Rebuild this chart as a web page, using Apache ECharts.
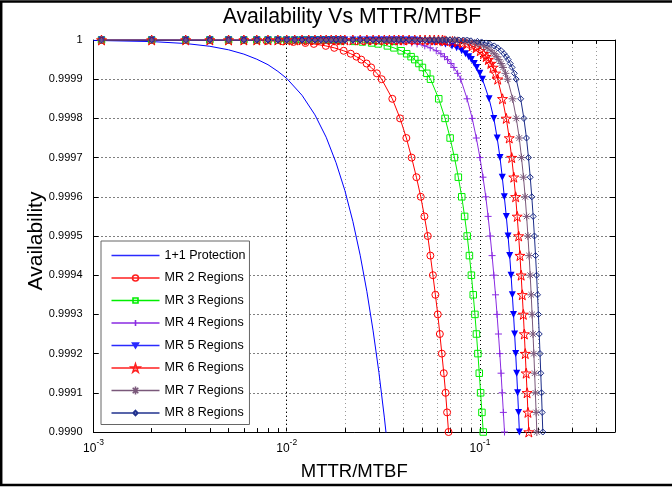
<!DOCTYPE html>
<html>
<head>
<meta charset="utf-8">
<script src="https://cdn.jsdelivr.net/npm/echarts@6/dist/echarts.min.js"></script>
<style>
  html, body { margin: 0; padding: 0; background: #fff; }
  #availChart { width: 672px; height: 488px; }
</style>
</head>
<body>
<div id="availChart"></div>
<script>
// availability levels where the MR curves were read (1 - A in steps of the grid)
const levelA = [0.999998, 0.9999965, 0.999995, 0.9999925, 0.99999, 0.999985, 0.99998, 0.9999725,
  0.999965, 0.9999575, 0.99995, 0.99994, 0.99993, 0.999915, 0.9999, 0.99985, 0.9998, 0.99975,
  0.9997, 0.99965, 0.9996, 0.99955, 0.9995, 0.99945, 0.9994, 0.99935, 0.9993, 0.99925, 0.9992,
  0.99915, 0.9991, 0.99905, 0.999, 0.9989];

// MTTR/MTBF read for each curve at the levels above
const mr2X = [0.00785, 0.00956, 0.01083, 0.01249, 0.01381, 0.01593, 0.01762, 0.01971, 0.02144, 0.02295,
  0.02431, 0.02591, 0.02735, 0.02928, 0.031, 0.0352, 0.0386, 0.0416, 0.0443, 0.0469, 0.0494, 0.0516,
  0.0537, 0.0554, 0.0571, 0.0588, 0.0605, 0.062, 0.0635, 0.065, 0.0664, 0.0676, 0.0688, 0.0711];
const mr3X = [0.01923, 0.02238, 0.02464, 0.02751, 0.02973, 0.03319, 0.03589, 0.03912, 0.04176, 0.04401,
  0.046, 0.04832, 0.05038, 0.05311, 0.0555, 0.0612, 0.066, 0.0701, 0.0738, 0.0773, 0.0805, 0.0833,
  0.0859, 0.0882, 0.0903, 0.0923, 0.0942, 0.0959, 0.0976, 0.0992, 0.1008, 0.1024, 0.104, 0.1067];
const mr4X = [0.0329, 0.03732, 0.04044, 0.04432, 0.04729, 0.05182, 0.0553, 0.05942, 0.06273, 0.06554,
  0.068, 0.07084, 0.07335, 0.07664, 0.0795, 0.0858, 0.0912, 0.0958, 0.1, 0.1037, 0.1072, 0.1102,
  0.113, 0.1156, 0.118, 0.1204, 0.1226, 0.1247, 0.1267, 0.1286, 0.1304, 0.1322, 0.134, 0.1369];
const mr5X = [0.04875, 0.05426, 0.05808, 0.06277, 0.06631, 0.07167, 0.07573, 0.08047, 0.08426, 0.08745,
  0.09022, 0.09341, 0.0962, 0.09985, 0.103, 0.1115, 0.118, 0.1228, 0.127, 0.1305, 0.1337, 0.1369,
  0.1398, 0.1425, 0.1449, 0.1471, 0.1492, 0.1512, 0.1531, 0.1549, 0.1567, 0.1584, 0.16, 0.1629];
const mr6X = [0.06589, 0.0721, 0.07635, 0.0815, 0.08535, 0.09111, 0.09543, 0.10043, 0.1044, 0.1077,
  0.11057, 0.11385, 0.1167, 0.12041, 0.1236, 0.1308, 0.1368, 0.1418, 0.146, 0.1497, 0.153, 0.1559,
  0.1586, 0.1611, 0.1634, 0.1656, 0.1677, 0.1697, 0.1716, 0.1735, 0.1754, 0.1772, 0.179, 0.1818];
const mr7X = [0.07684, 0.08365, 0.08829, 0.09388, 0.09805, 0.10428, 0.10893, 0.1143, 0.11855, 0.1221,
  0.12514, 0.12864, 0.13167, 0.13562, 0.139, 0.1476, 0.1542, 0.1598, 0.1641, 0.168, 0.1714, 0.1744,
  0.1772, 0.1797, 0.182, 0.1842, 0.1862, 0.1882, 0.1901, 0.1919, 0.1936, 0.1953, 0.197, 0.1999];
const mr8X = [0.08986, 0.09707, 0.10195, 0.1078, 0.11216, 0.1186, 0.1234, 0.12891, 0.13327, 0.13688,
  0.13999, 0.14353, 0.14661, 0.1506, 0.154, 0.1625, 0.1688, 0.1741, 0.1783, 0.1821, 0.1855, 0.1886,
  0.1914, 0.194, 0.1964, 0.1986, 0.2007, 0.2027, 0.2046, 0.2064, 0.2082, 0.2099, 0.2115, 0.2143];

// samples along the top where every MR curve still reads 1
const flatX = [0.0011, 0.002, 0.003, 0.004, 0.005, 0.006, 0.007, 0.008, 0.009, 0.010, 0.011, 0.012,
  0.013, 0.014, 0.015, 0.016, 0.017, 0.018, 0.019, 0.020, 0.022, 0.024, 0.026, 0.028, 0.030, 0.032,
  0.034, 0.036, 0.038, 0.040, 0.043, 0.046, 0.049, 0.052, 0.055, 0.058, 0.061, 0.064, 0.067, 0.070,
  0.074, 0.078, 0.082, 0.086];

// 1+1 protection curve
const protX = [0.001, 0.002, 0.003, 0.004, 0.005, 0.006, 0.007, 0.008, 0.009, 0.010, 0.012, 0.014,
  0.016, 0.018, 0.020, 0.022, 0.024, 0.026, 0.028, 0.030, 0.032, 0.034];
const protA = [0.999999, 0.999996, 0.999991, 0.999984, 0.999975, 0.999964, 0.999951, 0.999937,
  0.99992, 0.999902, 0.999859, 0.999809, 0.999752, 0.999687, 0.999616, 0.999537, 0.999451,
  0.999358, 0.999258, 0.999152, 0.999038, 0.998919];

const seriesNames = ['1+1 Protection', 'MR 2 Regions', 'MR 3 Regions', 'MR 4 Regions',
  'MR 5 Regions', 'MR 6 Regions', 'MR 7 Regions', 'MR 8 Regions'];
const seriesColors = ['#0000ff', '#ff0000', '#00ee00', '#8a2be2', '#0000ff', '#ff0000', '#7a587a', '#1c2c88'];
const minorX = [0.002, 0.003, 0.004, 0.005, 0.006, 0.007, 0.008, 0.009,
  0.02, 0.03, 0.04, 0.05, 0.06, 0.07, 0.08, 0.09, 0.2, 0.3, 0.4];

const FONT = 'Liberation Sans';
const marker = {
  circle: 'path://M5,0A5,5,0,1,1,5,10A5,5,0,1,1,5,0Z',
  square: 'path://M0,0H10V10H0Z',
  plus: 'path://M0,5H10M5,0V10',
  pentagram: 'path://M10,0L12.25,6.91L19.51,6.91L13.63,11.18L15.88,18.09L10,13.82L4.12,18.09L6.37,11.18L0.49,6.91L7.75,6.91Z',
  asterisk: 'path://M0,5H10M5,0V10M1.5,1.5L8.5,8.5M1.5,8.5L8.5,1.5',
  diamond: 'path://M5,0L10,5L5,10L0,5Z'
};

// legend icons: a 48x10 box with the line and the marker in the middle
const legendIcons = [
  'path://M0,0M0,5H48M48,10',
  'path://M0,0M0,5H48M48,10M27,5A3,3,0,1,1,21,5A3,3,0,1,1,27,5Z',
  'path://M0,0M0,5H48M48,10M21.5,2.5H26.5V7.5H21.5Z',
  'path://M0,0M0,5H48M48,10M24,2V8',
  'path://M0,0M0,5H48M48,10M21,2.5H27L24,7.5Z',
  'path://M0,0M0,5H48M48,10M24,0.9L25.01,4.01L28.28,4.01L25.63,5.93L26.65,9.04L24,7.12L21.35,9.04L22.37,5.93L19.72,4.01L22.99,4.01Z',
  'path://M0,0M0,5H48M48,10M24,1V9M21.2,2.2L26.8,7.8M21.2,7.8L26.8,2.2',
  'path://M0,0M0,5H48M48,10M24,2.5L26.5,5L24,7.5L21.5,5Z'
];
const legendFilled = [false, false, false, false, true, false, false, false];
const legendColors = ['#2a2aff', '#ff2020', '#00ee00', '#8a2be2', '#2a2aff', '#ff2020', '#7a587a', '#22338f'];

function mrSeries(name, xs, color, symbol, size, filled, rotate) {
  const flat = flatX.filter(x => x < xs[0]).map(x => [x, 1]);
  const knee = xs.map((x, i) => [x, levelA[i]]);
  return {
    name: name,
    type: 'line',
    data: flat.concat(knee),
    symbol: symbol,
    symbolSize: size,
    symbolRotate: rotate || 0,
    lineStyle: { color: color, width: 1 },
    itemStyle: filled ? { color: color } : { color: 'none', borderColor: color, borderWidth: 1 },
    emphasis: { disabled: true },
    animation: false
  };
}

// minor grid lines and minor ticks of the log axis
const minorLines = [];
minorX.forEach(x => {
  minorLines.push({ xAxis: x });
  minorLines.push([{ coord: [x, 0.999], lineStyle: { type: 'solid', color: '#000' } }, { coord: [x, 0.99901] }]);
  minorLines.push([{ coord: [x, 1], lineStyle: { type: 'solid', color: '#000' } }, { coord: [x, 0.99999] }]);
});

const protSeries = {
  name: seriesNames[0],
  type: 'line',
  data: protX.map((x, i) => [x, protA[i]]),
  symbol: 'none',
  lineStyle: { color: '#0000ff', width: 1 },
  itemStyle: { color: '#0000ff' },
  emphasis: { disabled: true },
  animation: false,
  markLine: {
    silent: true,
    symbol: ['none', 'none'],
    label: { show: false },
    animation: false,
    z: 1,
    lineStyle: { color: '#999', type: [1, 3], width: 1 },
    data: minorLines
  }
};

const logLabel = v => {
  const p = Math.log10(v);
  const r = Math.round(p);
  return Math.abs(p - r) < 1e-6 ? '{b|10}{s|' + r + '}' : '';
};
const yLabel = v => (Math.abs(v - 1) < 1e-9 ? '1' : v.toFixed(4));

const chart = echarts.init(document.getElementById('availChart'));
chart.setOption({
  backgroundColor: '#fff',
  animation: false,
  title: {
    text: 'Availability Vs MTTR/MTBF',
    left: 347,
    textAlign: 'center',
    top: 2,
    textStyle: { fontFamily: FONT, fontSize: 21.2, fontWeight: 'normal', color: '#000' }
  },
  graphic: [{
    type: 'rect',
    shape: { x: 1.2, y: 1.5, width: 700, height: 483.5 },
    style: { fill: 'none', stroke: '#000', lineWidth: 2.5 },
    silent: true
  }, {
    // y axis title, rotated like the original
    type: 'text',
    x: 36,
    y: 241,
    rotation: Math.PI / 2,
    silent: true,
    style: {
      text: 'Availability',
      fontFamily: FONT,
      fontSize: 21,
      fill: '#000',
      align: 'center',
      verticalAlign: 'middle'
    }
  }],
  grid: { left: 93.5, right: 57, top: 40, bottom: 56, outerBoundsMode: 'none' },
  legend: {
    orient: 'vertical',
    left: 101,
    top: 241,
    padding: [7, 4, 4, 8],
    itemWidth: 48,
    itemHeight: 10,
    itemGap: 7.5,
    backgroundColor: '#fff',
    borderColor: '#666',
    borderWidth: 1,
    borderRadius: 0,
    textStyle: { fontFamily: FONT, fontSize: 12.5, color: '#000', lineHeight: 15 },
    data: seriesNames.map((name, i) => ({
      name: name,
      icon: legendIcons[i],
      itemStyle: {
        color: legendFilled[i] ? legendColors[i] : 'none',
        borderColor: legendColors[i],
        borderWidth: 1.6
      }
    }))
  },
  xAxis: [{
    type: 'log',
    logBase: 10,
    min: 0.001,
    max: 0.5,
    name: 'MTTR/MTBF',
    nameLocation: 'middle',
    nameGap: 30,
    nameMoveOverlap: false,
    nameTextStyle: { fontFamily: FONT, fontSize: 18.5, color: '#000' },
    axisLine: { lineStyle: { color: '#000', width: 1 } },
    axisTick: { inside: true, length: 5, lineStyle: { color: '#000' } },
    axisLabel: {
      formatter: logLabel,
      margin: 4,
      rich: {
        b: { fontFamily: FONT, fontSize: 12, color: '#000', padding: [7, 0, 0, 0] },
        s: { fontFamily: FONT, fontSize: 8.5, color: '#000', padding: [0, 0, 5, 0] }
      }
    },
    splitLine: { show: true, lineStyle: { color: '#000', type: [1, 3], width: 1 } }
  }, {
    type: 'log',
    logBase: 10,
    min: 0.001,
    max: 0.5,
    position: 'top',
    axisLine: { lineStyle: { color: '#000', width: 1 } },
    axisTick: { inside: true, length: 5, lineStyle: { color: '#000' } },
    axisLabel: { show: false },
    splitLine: { show: false }
  }],
  yAxis: [{
    type: 'value',
    min: 0.999,
    max: 1,
    interval: 0.0001,
    axisLine: { show: true, lineStyle: { color: '#000', width: 1 } },
    axisTick: { show: true, inside: true, length: 5, lineStyle: { color: '#000' } },
    axisLabel: { formatter: yLabel, fontFamily: FONT, fontSize: 11, color: '#000', margin: 11 },
    splitLine: { show: true, lineStyle: { color: '#000', type: [1, 3], width: 1 } }
  }, {
    type: 'value',
    min: 0.999,
    max: 1,
    interval: 0.0001,
    position: 'right',
    axisLine: { show: true, lineStyle: { color: '#000', width: 1 } },
    axisTick: { show: true, inside: true, length: 5, lineStyle: { color: '#000' } },
    axisLabel: { show: false },
    splitLine: { show: false }
  }],
  series: [
    protSeries,
    mrSeries(seriesNames[1], mr2X, seriesColors[1], marker.circle, 7, false),
    mrSeries(seriesNames[2], mr3X, seriesColors[2], marker.square, 6.5, false),
    mrSeries(seriesNames[3], mr4X, seriesColors[3], marker.plus, 7, false),
    mrSeries(seriesNames[4], mr5X, seriesColors[4], 'triangle', 7, true, 180),
    mrSeries(seriesNames[5], mr6X, seriesColors[5], marker.pentagram, 10, false),
    mrSeries(seriesNames[6], mr7X, seriesColors[6], marker.asterisk, 8, false),
    mrSeries(seriesNames[7], mr8X, seriesColors[7], marker.diamond, 6, false)
  ]
});
</script>
</body>
</html>
